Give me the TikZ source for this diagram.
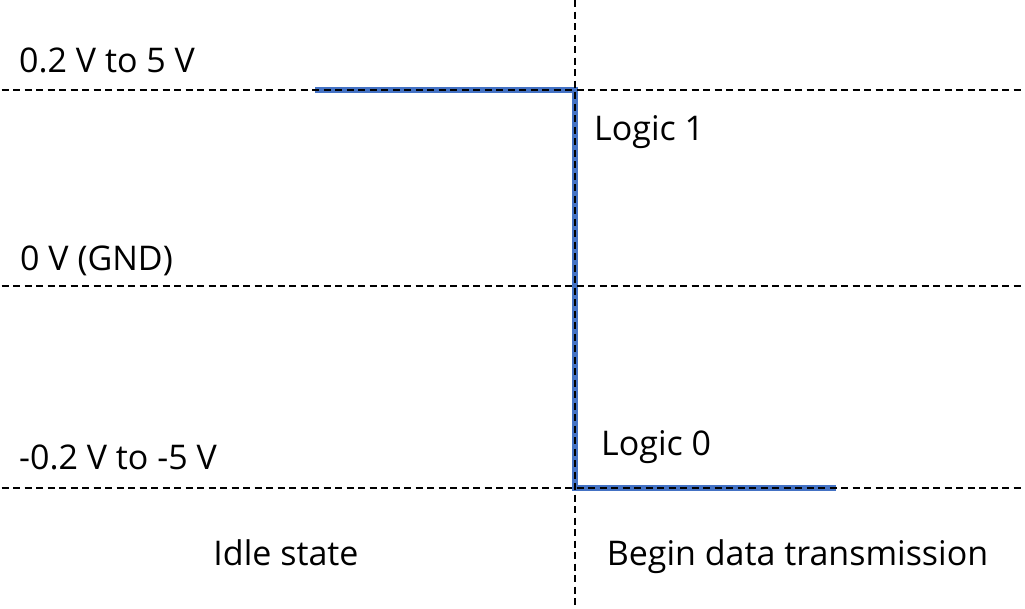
\documentclass[tikz,border=0pt]{standalone}
\usepackage{fontspec}
\setmainfont{Open Sans}
\begin{document}
\begin{tikzpicture}[x=1pt,y=-1pt,
  grid/.style={black,line width=2pt,dash pattern=on 7pt off 4.5pt},
  lbl/.style={inner sep=0pt,font=\fontsize{34}{40}\selectfont}]
\useasboundingbox (0,0) rectangle (1025,608);
\definecolor{sigblue}{HTML}{4472C4}
% coordinates
\coordinate (hl1) at (1.5,90);    \coordinate (hr1) at (1025,90);
\coordinate (hl2) at (1.5,286);   \coordinate (hr2) at (1025,286);
\coordinate (hl3) at (1.5,488);   \coordinate (hr3) at (1025,488);
\coordinate (vt) at (575,0);    \coordinate (vb) at (575,608);
\coordinate (s0) at (315,90);   \coordinate (s1) at (575,90);
\coordinate (s2) at (575,488);  \coordinate (s3) at (836,488);
% signal
\draw[sigblue,line width=5.5pt] (s0) -- (s1) -- (s2) -- (s3);
% grid
\draw[grid] (hl1) -- (hr1);
\draw[grid] (hl2) -- (hr2);
\draw[grid] (hl3) -- (hr3);
\draw[grid] (vt) -- (vb);
% labels
\node[lbl,anchor=base west] (v1) at (19,72.5) {0.2 V to 5 V};
\node[lbl,anchor=base west] (v0) at (20,270.5) {0 V (GND)};
\node[lbl,anchor=base west] (vm) at (19,469) {-0.2 V to -5 V};
\node[lbl,anchor=base west] (l1) at (594,140.5) {Logic 1};
\node[lbl,anchor=base west] (l0) at (601,455.5) {Logic 0};
\node[lbl,anchor=base] (idle) at (286,565) {Idle state};
\node[lbl,anchor=base] (begin) at (797.5,565) {Begin data transmission};
\end{tikzpicture}
\end{document}
